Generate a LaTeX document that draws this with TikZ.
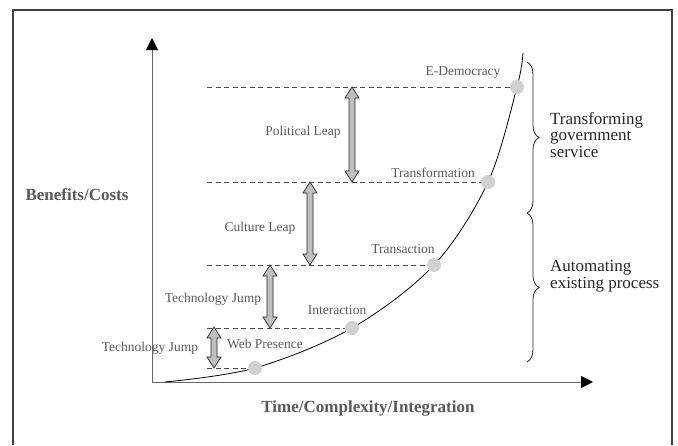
\documentclass[tikz,border=0pt]{standalone}
\usepackage{fontspec}
\setmainfont{Liberation Serif}
\usetikzlibrary{arrows.meta,decorations.pathreplacing}
\begin{document}
\begin{tikzpicture}[x=1pt,y=-1pt,
    lbl/.style={text=black!65,font=\fontsize{13.5}{16}\selectfont,inner sep=0pt},
    axlbl/.style={text=black!65,font=\fontsize{17}{20}\selectfont\bfseries,inner sep=0pt},
    side/.style={text=black!85,font=\fontsize{17}{16.5}\selectfont,align=left,anchor=west,inner sep=0pt},
    stage/.style={circle,fill=black!18,minimum size=14pt,inner sep=0pt},
    level/.style={black!70,dash pattern=on 5pt off 3.5pt,line width=.9pt},
    leap/.style={fill=black!25,draw=black!85,line width=.7pt},
    axis/.style={black!60,line width=1pt,-{Triangle[length=12pt,width=12pt,color=black]}}]
\useasboundingbox (0,0) rectangle (678,445);
\draw[black!75,line width=1.5pt] (13,445) -- (13,10) -- (672,10) -- (672,445);
% axes
\coordinate (o) at (152,382);
\coordinate (ytip) at (152,38);
\coordinate (xtip) at (593,382);
\draw[axis] (o) -- (ytip);
\draw[axis] (o) -- (xtip);
\node[axlbl] (benefit) at (77,195) {Benefits/Costs};
\node[axlbl] (time) at (368,408) {Time/Complexity/Integration};
% stages on the curve
\foreach \n/\x/\y in {web/255/368,inter/352/328,trans/434/265,transf/488/182,edem/517/87}
{
    \coordinate (\n) at (\x,\y);
    \coordinate (\n l) at (207,\y);
    \draw[level] (\n l) -- (\n);
}
\coordinate (c0) at (165,382);
\coordinate (c6) at (523,53);
\draw[black,line width=.8pt] plot[smooth,tension=.55] coordinates {(c0) (web) (inter) (trans) (transf) (edem) (c6)};
\foreach \n in {web,inter,trans,transf,edem}
    \node[stage] (\n dot) at (\n) {};
\node[lbl] (webtxt) at (265,344) {Web Presence};
\node[lbl] (intertxt) at (337,310) {Interaction};
\node[lbl] (transtxt) at (403,249) {Transaction};
\node[lbl] (transftxt) at (433,173) {Transformation};
\node[lbl] (edemtxt) at (463,73) {E-Democracy};
% leaps between levels
\foreach \x/\a/\b in {214/327/368,270/265/328,310/182/265,352/87/182}
{
    \filldraw[leap] (\x,\a) -- (\x+7,\a+11) -- (\x+3,\a+11) -- (\x+3,\b-11) -- (\x+7,\b-11) -- (\x,\b)
        -- (\x-7,\b-11) -- (\x-3,\b-11) -- (\x-3,\a+11) -- (\x-7,\a+11) -- cycle;
}
\node[lbl] (polleap) at (303,132) {Political Leap};
\node[lbl] (culleap) at (260,228) {Culture Leap};
\node[lbl] (techup) at (213,299) {Technology Jump};
\node[lbl] (techlow) at (150,348) {Technology Jump};
% braces
\coordinate (b0) at (527,62);
\coordinate (b1) at (527,213);
\coordinate (b2) at (527,362);
\draw[black!85,line width=.8pt,decorate,decoration={brace,amplitude=12pt}] (b0) -- (b1);
\draw[black!85,line width=.8pt,decorate,decoration={brace,amplitude=12pt}] (b1) -- (b2);
\node[side] (transform) at (550,135) {Transforming\\government\\service};
\node[side] (automate) at (550,276) {Automating\\existing process};
\end{tikzpicture}
\end{document}
